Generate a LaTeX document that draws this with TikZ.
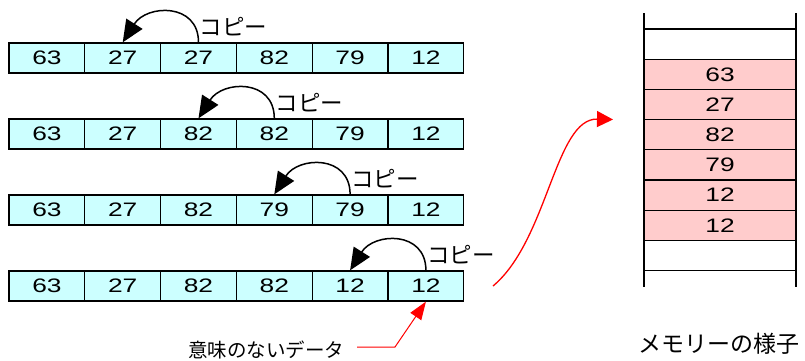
\documentclass[tikz,border=0pt]{standalone}
\usepackage{fontspec}
\setmainfont{Liberation Sans}
\newfontfamily\jpfont{Noto Sans CJK JP}
\newfontfamily\numfont[FakeStretch=1.35]{Liberation Sans}
\usetikzlibrary{arrows.meta}
\definecolor{cellcyan}{HTML}{CCFFFF}
\definecolor{cellpink}{HTML}{FFCCCC}
\begin{document}
\begin{tikzpicture}[x=1pt,y=-1pt,
  cell/.style={draw=black, line width=1.3pt, fill=cellcyan, minimum width=75.8pt,
    minimum height=30pt, inner sep=0pt, font=\numfont\fontsize{19.5}{22}\selectfont},
  memcell/.style={draw=black, line width=1.2pt, fill=cellpink, minimum width=152pt,
    minimum height=30.2pt, inner sep=0pt, font=\numfont\fontsize{19.5}{22}\selectfont},
  copyarrow/.style={draw=black, line width=1.5pt, -{Triangle[length=22pt,width=19pt]}},
  copylabel/.style={font=\jpfont\fontsize{22.5}{25}\selectfont, inner sep=0pt, anchor=west},
  redarrow/.style={draw=red, line width=1.3pt},
  memline/.style={draw=black, line width=1.2pt}
]
\useasboundingbox (0,0) rectangle (805,360);

% arrays
\foreach \row/\vals in {1/{63,27,27,82,79,12}, 2/{63,27,82,82,79,12}, 3/{63,27,82,79,79,12}, 4/{63,27,82,82,12,12}}{
  \foreach \v [count=\c] in \vals {
    \node[cell] (r\row c\c) at ({9+75.8*(\c-0.5)}, {58+76*(\row-1)}) {\v};
  }
}

% copy arcs and labels
\draw[copyarrow] (r1c3.north) .. controls +(0,-40) and +(24,-38) .. (r1c2.north);
\draw[copyarrow] (r2c4.north) .. controls +(0,-40) and +(24,-38) .. (r2c3.north);
\draw[copyarrow] (r3c5.north) .. controls +(0,-40) and +(24,-38) .. (r3c4.north);
\draw[copyarrow] (r4c6.north) .. controls +(0,-40) and +(24,-38) .. (r4c5.north);
\node[copylabel, xshift=1pt, yshift=16pt] (cp1) at (r1c3.north) {コピー};
\node[copylabel, xshift=1pt, yshift=16pt] (cp2) at (r2c4.north) {コピー};
\node[copylabel, xshift=1pt, yshift=16pt] (cp3) at (r3c5.north) {コピー};
\node[copylabel, xshift=1pt, yshift=16pt] (cp4) at (r4c6.north) {コピー};

% memory
\draw[memline] (644,13) -- (644,287);
\draw[memline] (796,13) -- (796,287);
\draw[memline] (644,29) -- (796,29);
\draw[memline] (644,270.6) -- (796,270.6);
\foreach \v [count=\i] in {63,27,82,79,12,12}{
  \node[memcell] (m\i) at (720, {59.2+30.2*(\i-0.5)}) {\v};
}
\draw[memline] (644,59.2) -- (796,59.2);
\draw[memline] (644,240.4) -- (796,240.4);
\node[font=\jpfont\fontsize{23}{26}\selectfont] (memlabel) at (719,344) {メモリーの様子};

% red curve
\coordinate (rs) at (493,286);
\coordinate (rt) at (613,119.5);
\draw[redarrow, -{Triangle[length=16pt,width=16pt]}] (rs) .. controls (548,240) and (555,118) .. (rt);

% meaningless data pointer
\node[font=\jpfont\fontsize{19.5}{22}\selectfont, inner sep=0pt] (junk) at (266,350) {意味のないデータ};
\coordinate (p1) at (357,347);
\coordinate (p2) at (395,347);
\draw[draw=red, line width=1pt, -{Triangle[length=18pt,width=13pt]}] (p1) -- (p2) -- (r4c6.south);
\end{tikzpicture}
\end{document}
